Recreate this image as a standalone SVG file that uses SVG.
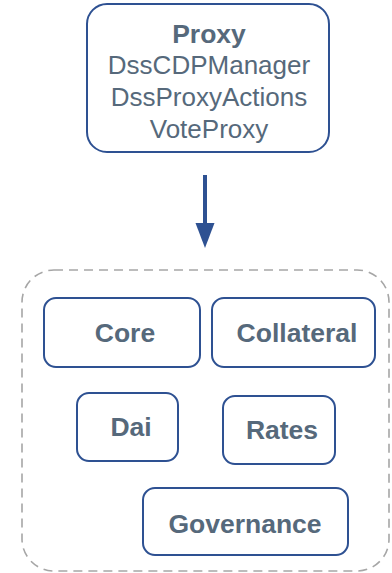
<svg xmlns="http://www.w3.org/2000/svg" width="392" height="573" viewBox="0 0 392 573">
<defs>
<style>
.node{fill:#fff;stroke:#2e5192;stroke-width:2}
.t{font-family:"Liberation Sans",Arial,sans-serif;fill:#56697b;text-anchor:middle}
.b{font-weight:bold;font-size:26.5px}
.r{font-size:26px}
.cont{fill:none;stroke:#a6a6a6;stroke-width:1.6;stroke-dasharray:9 6}
</style>
<marker id="ah" markerWidth="25" markerHeight="20" refX="0" refY="10" orient="auto" markerUnits="userSpaceOnUse">
<path d="M0,0.5 L25,10 L0,19.5 Z" fill="#2e5192"/>
</marker>
</defs>
<rect width="392" height="573" fill="#fff"/>
<g id="container">
<rect class="cont" x="22" y="270" width="367" height="301" rx="32"/>
</g>
<g id="proxy">
<rect class="node" x="87" y="4" width="242" height="148" rx="20"/>
<text class="t b" x="209" y="43">Proxy</text>
<text class="t r" x="209" y="74">DssCDPManager</text>
<text class="t r" x="209" y="106">DssProxyActions</text>
<text class="t r" x="209" y="138">VoteProxy</text>
</g>
<g id="connectors">
<line x1="205" y1="175" x2="205" y2="223" stroke="#2e5192" stroke-width="4" marker-end="url(#ah)"/>
</g>
<g id="core">
<rect class="node" x="44" y="298" width="156" height="69" rx="12"/>
<text class="t b" x="125" y="342">Core</text>
</g>
<g id="collateral">
<rect class="node" x="212" y="298" width="163" height="69" rx="12"/>
<text class="t b" x="297" y="342">Collateral</text>
</g>
<g id="dai">
<rect class="node" x="77" y="393" width="101" height="68" rx="12"/>
<text class="t b" x="131" y="436">Dai</text>
</g>
<g id="rates">
<rect class="node" x="223" y="396" width="112" height="68" rx="12"/>
<text class="t b" x="282" y="439">Rates</text>
</g>
<g id="governance">
<rect class="node" x="143" y="488" width="205" height="67" rx="12"/>
<text class="t b" x="245" y="533">Governance</text>
</g>
</svg>
